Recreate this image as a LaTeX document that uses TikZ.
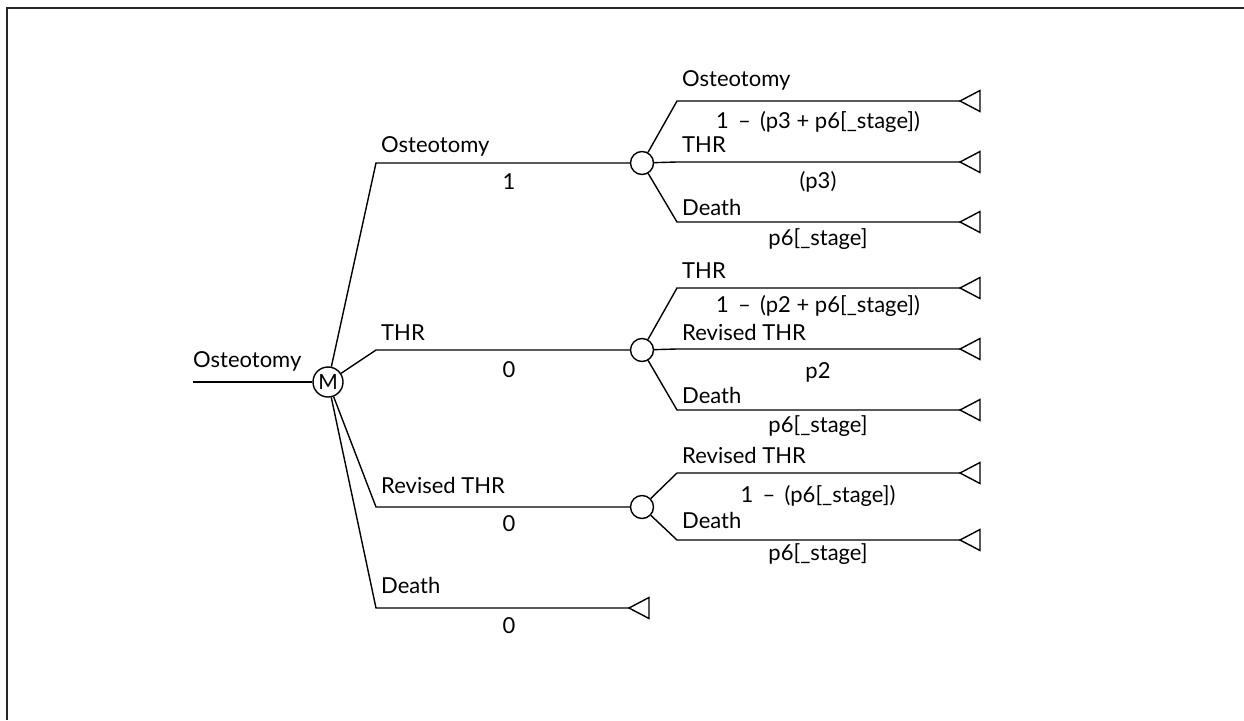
\documentclass[tikz,border=0pt]{standalone}
\usepackage{fontspec}
\setmainfont{Lato}
\begin{document}
\begin{tikzpicture}[x=1pt,y=-1pt,
  treeline/.style={line width=1.4pt,black},
  decision/.style={circle,draw,line width=1.4pt,minimum size=30pt,inner sep=0pt,font=\fontsize{21}{24}\selectfont},
  chance/.style={circle,draw,line width=1.4pt,minimum size=23pt,inner sep=0pt},
  lbltext/.style={inner sep=0pt,font=\fontsize{22}{26}\selectfont},
  brlabel/.style={lbltext,anchor=base west},
  problabel/.style={lbltext,anchor=base},
  terminal/.pic={\draw[treeline,line join=miter] (0,0) -- (20,-10.5) -- (20,10.5) -- cycle;}
]
\useasboundingbox (0,0) rectangle (1244,720);
% outer frame (top and left edges)
\draw[line width=2.5pt,black!85] (7,720) -- (7,8) -- (1244,8);

% root and decision node
\coordinate (root) at (193,382);
\node[decision] (m) at (328,382) {M};
\node[brlabel] (rootlbl) at (193,367) {Osteotomy};
\draw[treeline] (root) -- (m);

% first-level corners and chance nodes
\coordinate (c1) at (376,163);
\coordinate (c2) at (376,350);
\coordinate (c3) at (376,507);
\coordinate (c4) at (376,608);
\node[chance] (n1) at (642,163) {};
\node[chance] (n2) at (642,350) {};
\node[chance] (n3) at (642,507) {};
\coordinate (t4) at (629,608);
\pic at (t4) {terminal};

\draw[treeline] (m) -- (c1) -- (n1);
\draw[treeline] (m) -- (c2) -- (n2);
\draw[treeline] (m) -- (c3) -- (n3);
\draw[treeline] (m) -- (c4) -- (t4);

\node[brlabel] (l1) at (381,152) {Osteotomy};
\node[problabel] (p1) at (509,189) {1};
\node[brlabel] (l2) at (381,340) {THR};
\node[problabel] (p2) at (509,377) {0};
\node[brlabel] (l3) at (381,493) {Revised THR};
\node[problabel] (p3) at (509,531) {0};
\node[brlabel] (l4) at (381,593) {Death};
\node[problabel] (p4) at (509,633) {0};

% second-level branches
\foreach \k/\y/\n in {11/101/n1,12/162/n1,13/222/n1,
                      21/288/n2,22/349/n2,23/410/n2,
                      31/473/n3,32/540/n3}{
  \coordinate (k\k) at (677,\y);
  \coordinate (t\k) at (960,\y);
  \pic at (t\k) {terminal};
  \draw[treeline] (\n) -- (k\k) -- (t\k);
}

\node[brlabel] (l11) at (682,86) {Osteotomy};
\node[problabel] (p11) at (818,128) {1 \,–\, (p3 + p6[\_stage])};
\node[brlabel] (l12) at (682,152) {THR};
\node[problabel] (p12) at (818,188) {(p3)};
\node[brlabel] (l13) at (682,215) {Death};
\node[problabel] (p13) at (818,245) {p6[\_stage]};

\node[brlabel] (l21) at (682,278) {THR};
\node[problabel] (p21) at (818,312) {1 \,–\, (p2 + p6[\_stage])};
\node[brlabel] (l22) at (682,340) {Revised THR};
\node[problabel] (p22) at (818,378) {p2};
\node[brlabel] (l23) at (682,403) {Death};
\node[problabel] (p23) at (818,432) {p6[\_stage]};

\node[brlabel] (l31) at (682,463) {Revised THR};
\node[problabel] (p31) at (818,502) {1 \,–\, (p6[\_stage])};
\node[brlabel] (l32) at (682,528) {Death};
\node[problabel] (p32) at (818,560) {p6[\_stage]};
\end{tikzpicture}
\end{document}
